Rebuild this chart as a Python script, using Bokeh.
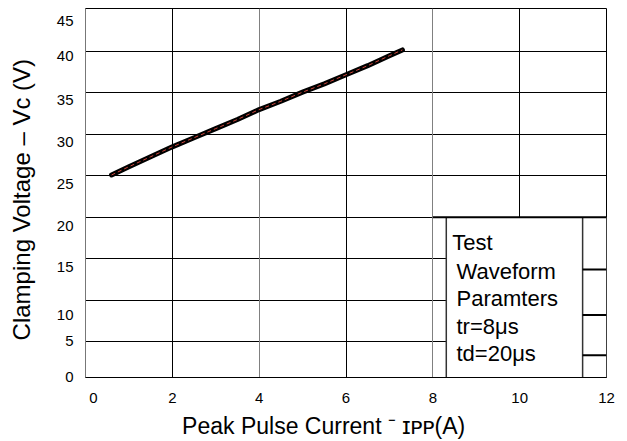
from bokeh.plotting import figure
from bokeh.models import Range1d, FixedTicker, Grid
from bokeh.embed import file_html
from bokeh.resources import INLINE
from bokeh.core.properties import value

# ---- data ----
current = [0.6, 1.0, 1.5, 2.0, 2.5, 3.0, 3.5, 4.0, 4.5, 5.0, 5.5, 6.0, 6.5, 7.0, 7.3]
voltage = [25.1, 26.1, 27.3, 28.5, 29.6, 30.7, 31.8, 33.0, 34.0, 35.1, 36.1, 37.2, 38.3, 39.5, 40.2]

x_ticks = [0, 2, 4, 6, 8, 10, 12]
x_tick_labels = ["0", "2", "4", "6", "8", "10", "12"]
y_ticks = [0, 5, 10, 15, 20, 25, 30, 35, 40, 45]
y_tick_labels = ["0", "5", "10", "15", "20", "25", "30", "35", "40", "45"]
legend_lines = ["Test", "Waveform", "Paramters", "tr=8\u03bcs", "td=20\u03bcs"]

x_title = "Peak Pulse Current \u207b \u026a\u1d18\u1d18(A)" + "\u00a0" * 7
y_title = "Clamping Voltage \u2013 V\u1d04 (V)" + "\u00a0" * 2

# ---- layout / style constants ----
X0, X1 = 0, 12
Y0, Y1 = 0.65, 45.2
x_label_shift = [0.18, 0, 0, 0, 0, 0, 0]
y_label_shift = [0.7, 0.0, -1.8, -1.0, -1.0, -1.0, -0.9, -0.8, -0.56, -1.3]
box_left, box_right, box_top = 8.31, 11.45, 20
side_marks = [13.7, 8.2, 3.33]
legend_x = [8.445, 8.545, 8.545, 8.545, 8.545]
legend_y = [16.9, 13.5, 10.2, 6.8, 3.6]
FONT = "Liberation Sans"

p = figure(width=620, height=441, x_range=Range1d(X0, X1), y_range=Range1d(Y0, Y1),
           output_backend="svg", toolbar_location=None,
           min_border_left=85, min_border_right=14, min_border_top=8, min_border_bottom=59)
p.background_fill_color = "white"
p.border_fill_color = "white"
p.outline_line_color = "black"
p.outline_line_width = 1

# axes: labels at shifted positions, no tick marks
xpos = [t + s for t, s in zip(x_ticks, x_label_shift)]
ypos = [t + s for t, s in zip(y_ticks, y_label_shift)]
p.xaxis.ticker = FixedTicker(ticks=xpos)
p.xaxis.major_label_overrides = {v: l for v, l in zip(xpos, x_tick_labels)}
p.yaxis.ticker = FixedTicker(ticks=ypos)
p.yaxis.major_label_overrides = {v: l for v, l in zip(ypos, y_tick_labels)}
for ax in (p.xaxis[0], p.yaxis[0]):
    ax.major_tick_line_color = None
    ax.minor_tick_line_color = None
    ax.major_label_text_font = FONT
    ax.major_label_text_font_size = "15px"
    ax.major_label_text_color = "black"
    ax.axis_label_text_font = FONT
    ax.axis_label_text_font_style = "normal"
    ax.axis_label_text_color = "black"
p.xaxis.axis_line_color = "black"
p.yaxis.axis_line_color = "#777777"
p.xaxis.major_label_standoff = 9
p.yaxis.major_label_standoff = 6
p.xaxis.axis_label = x_title
p.yaxis.axis_label = y_title
p.xaxis.axis_label_text_font_size = "23px"
p.yaxis.axis_label_text_font_size = "24px"
p.xaxis.axis_label_standoff = 7
p.yaxis.axis_label_standoff = 19

# grids
p.xgrid.ticker = FixedTicker(ticks=[2, 6, 10])
p.xgrid.grid_line_color = "black"
p.add_layout(Grid(dimension=0, ticker=FixedTicker(ticks=[4, 8]), grid_line_color="#808080"))
p.ygrid.ticker = FixedTicker(ticks=y_ticks[1:-1])
p.ygrid.grid_line_color = "black"

# parameter box (covers the grid below 20 on the right)
p.quad(left=[box_left], right=[X1], bottom=[Y0], top=[box_top], fill_color="white", line_color=None)
p.segment(x0=[box_left, box_right], y0=[Y0, Y0], x1=[box_left, box_right], y1=[box_top, box_top],
          line_color="#333333", line_width=1.5)
p.segment(x0=[8], y0=[box_top], x1=[X1], y1=[box_top], line_color="black", line_width=2)
p.segment(x0=[box_right] * 3, y0=side_marks, x1=[X1] * 3, y1=side_marks, line_color="black", line_width=2)
p.text(x=legend_x, y=legend_y, text=legend_lines, text_font=value(FONT), text_font_size="22px",
       text_baseline="middle", text_align="left", text_color="black")

# curve
p.line(current, voltage, line_color="black", line_width=5, line_cap="round", line_join="round")
p.line(current, voltage, line_color="#d0473c", line_width=1, line_dash="4 3")

open("out.html", "w").write(file_html(p, INLINE))
